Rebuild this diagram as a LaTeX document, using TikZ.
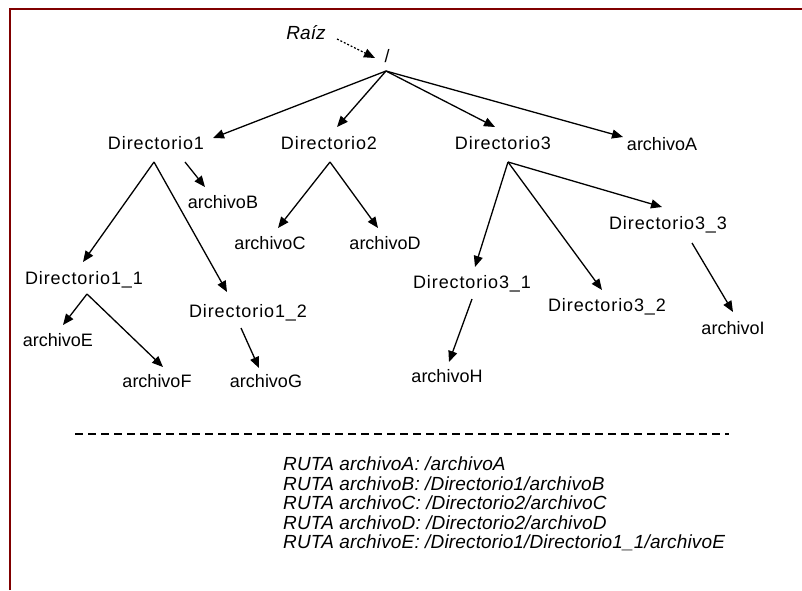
\documentclass[tikz,border=0pt]{standalone}
\usepackage{fontspec}
\setmainfont{Liberation Sans}
\usetikzlibrary{arrows.meta}
\definecolor{framered}{RGB}{128,0,0}
\begin{document}
\begin{tikzpicture}[x=1pt,y=-1pt,
  lbl/.style={font=\fontsize{18}{20}\selectfont, inner sep=0pt, text height=13pt, text depth=0pt, anchor=center},
  dirl/.style={lbl, font=\fontsize{18}{20}\selectfont\addfontfeature{LetterSpace=5}},
  arr/.style={line width=1.3pt, -{Triangle[length=11pt,width=9pt]}},
  dotarr/.style={line width=1.2pt, dash pattern=on 2pt off 1.8pt, -{Triangle[length=11pt,width=9pt]}},
  rutas/.style={font=\fontsize{19}{19.5}\selectfont\itshape\addfontfeature{LetterSpace=0.8}, inner sep=0pt, anchor=north west, align=left}
]
\useasboundingbox (0,0) rectangle (802,590);
\fill[white] (0,0) rectangle (802,590);
\draw[framered, line width=2pt] (9.5,590) -- (9.5,8.5) -- (802,8.5);

% nodes
\node[lbl, font=\fontsize{19}{20}\selectfont\itshape] (raiz) at (306,33) {Raíz};
\node[lbl] (root) at (387,56) {/};
\node[dirl] (d1) at (156,143) {Directorio1};
\node[dirl] (d2) at (329,143) {Directorio2};
\node[dirl] (d3) at (503,143) {Directorio3};
\node[lbl] (fA) at (662,144) {archivoA};
\node[lbl] (fB) at (223,202) {archivoB};
\node[lbl] (fC) at (270,243) {archivoC};
\node[lbl] (fD) at (385,243) {archivoD};
\node[dirl] (d11) at (84,278) {Directorio1\_1};
\node[dirl] (d12) at (248,311) {Directorio1\_2};
\node[lbl] (fE) at (58,340) {archivoE};
\node[lbl] (fF) at (157,381) {archivoF};
\node[lbl] (fG) at (266,381) {archivoG};
\node[dirl] (d31) at (472,282) {Directorio3\_1};
\node[dirl] (d32) at (607,305) {Directorio3\_2};
\node[dirl] (d33) at (668,223) {Directorio3\_3};
\node[lbl] (fH) at (447,376) {archivoH};
\node[lbl] (fI) at (733,328) {archivoI};

% connectors
\draw[dotarr] ([xshift=31pt,yshift=-6pt]raiz.center) -- ([xshift=-12pt,yshift=-2pt]root.center);

\draw[arr] ([xshift=-1pt,yshift=-15pt]root.center) -- ([xshift=57pt,yshift=5pt]d1.center);
\draw[arr] ([xshift=-1pt,yshift=-15pt]root.center) -- ([xshift=8pt,yshift=16pt]d2.center);
\draw[arr] ([xshift=-1pt,yshift=-15pt]root.center) -- ([xshift=-8pt,yshift=16pt]d3.center);
\draw[arr] ([xshift=-1pt,yshift=-15pt]root.center) -- ([xshift=-39pt,yshift=7pt]fA.center);

\draw[arr] ([xshift=-2pt,yshift=-19pt]d1.center) -- ([xshift=-1pt,yshift=16pt]d11.center);
\draw[arr] ([xshift=-2pt,yshift=-19pt]d1.center) -- ([xshift=-21pt,yshift=19pt]d12.center);
\draw[arr] ([xshift=29pt,yshift=-19pt]d1.center) -- ([xshift=-18pt,yshift=15pt]fB.center);

\draw[arr] ([xshift=1pt,yshift=-19pt]d2.center) -- ([xshift=8pt,yshift=15pt]fC.center);
\draw[arr] ([xshift=1pt,yshift=-19pt]d2.center) -- ([xshift=-7pt,yshift=15pt]fD.center);

\draw[arr] ([xshift=3pt,yshift=-16pt]d11.center) -- ([xshift=5pt,yshift=15pt]fE.center);
\draw[arr] ([xshift=3pt,yshift=-16pt]d11.center) -- ([xshift=6pt,yshift=14pt]fF.center);

\draw[arr] ([xshift=-7pt,yshift=-17pt]d12.center) -- ([xshift=-7pt,yshift=13pt]fG.center);

\draw[arr] ([xshift=5pt,yshift=-19pt]d3.center) -- ([xshift=3pt,yshift=15pt]d31.center);
\draw[arr] ([xshift=5pt,yshift=-19pt]d3.center) -- ([xshift=-5pt,yshift=15pt]d32.center);
\draw[arr] ([xshift=5pt,yshift=-19pt]d3.center) -- ([xshift=-6pt,yshift=16pt]d33.center);

\draw[arr] ([xshift=0pt,yshift=-17pt]d31.center) -- ([xshift=2pt,yshift=14pt]fH.center);
\draw[arr] ([xshift=24pt,yshift=-20pt]d33.center) -- ([xshift=0pt,yshift=16pt]fI.center);

% separator
\draw[line width=1.2pt, dash pattern=on 8pt off 5pt] (75,434) -- (729,434);

% paths
\node[rutas] (rutas) at (283,457) {RUTA archivoA: /archivoA\\
RUTA archivoB: /Directorio1/archivoB\\
RUTA archivoC: /Directorio2/archivoC\\
RUTA archivoD: /Directorio2/archivoD\\
RUTA archivoE: /Directorio1/Directorio1\_1/archivoE};
\end{tikzpicture}
\end{document}
